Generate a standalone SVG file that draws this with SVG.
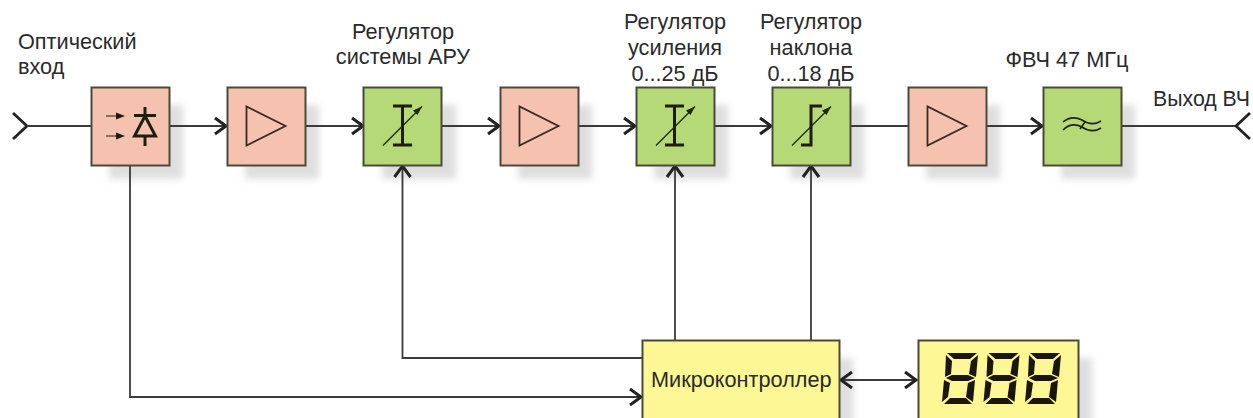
<svg xmlns="http://www.w3.org/2000/svg" xmlns:xlink="http://www.w3.org/1999/xlink" width="1253" height="418" viewBox="0 0 1253 418">
<style>
text{font-family:"Liberation Sans",Arial,sans-serif;font-size:21.7px;fill:#2a2a2a}
.m{text-anchor:middle}
.box{stroke:#4a4a3c;stroke-width:2}
.red{fill:#f5c2b0}.grn{fill:#b5d976}.yel{fill:#fdf796}
.sh{fill:#c4c4c4;opacity:.55;filter:url(#b)}
.l{fill:none;stroke:#3a3a3a;stroke-width:1.8}
.a{fill:none;stroke:#222;stroke-width:2.8}
.sym{fill:none;stroke:#3a2a20;stroke-width:1.8}
.thick{fill:none;stroke:#1e1e10;stroke-width:3}
.thin{fill:none;stroke:#1e2410;stroke-width:1.2}
.wave{fill:none;stroke:#1e2410;stroke-width:1.6}
</style>
<defs>
<filter id="b" x="-20%" y="-20%" width="140%" height="140%"><feGaussianBlur stdDeviation="3.5"/></filter>
<marker id="ah" markerUnits="userSpaceOnUse" markerWidth="16" markerHeight="20" refX="13" refY="10" orient="auto-start-reverse">
<path d="M1 2 L12 10 L1 18" fill="none" stroke="#222" stroke-width="3"/>
</marker>
<g id="amp"><path class="sym" d="M19.500 19.500 L19.500 58.500 L58.500 39 Z"/></g>
<g id="arw"><path class="thin" d="M11 58.500 L50 19.500"/><path d="M50 19.500 L41 23.500 L45.500 28 Z" fill="#1e2410"/></g>
<g id="dg" fill="#1c1608">
<polygon points="4,1 34,1 27,7 11,7"/>
<polygon points="3,3 9,9 8,22 2,25"/>
<polygon points="35,3 33,25 26,22 28,9"/>
<polygon points="3,26 9,23 25,23 32,26 25,29 9,29"/>
<polygon points="1,28 7,31 5,45 -1,50"/>
<polygon points="32,28 30,50 23,45 25,31"/>
<polygon points="1,52 29,52 23,46 7,46"/>
</g>
</defs>
<g id="shadows">
<rect class="sh" x="109" y="105" width="74" height="74"/>
<rect class="sh" x="245" y="105" width="74" height="74"/>
<rect class="sh" x="382" y="105" width="74" height="74"/>
<rect class="sh" x="518" y="105" width="74" height="74"/>
<rect class="sh" x="654" y="105" width="74" height="74"/>
<rect class="sh" x="790" y="105" width="74" height="74"/>
<rect class="sh" x="926" y="105" width="74" height="74"/>
<rect class="sh" x="1061" y="105" width="74" height="74"/>
<rect class="sh" x="660" y="358" width="193" height="76"/>
<rect class="sh" x="936" y="358" width="156" height="76"/>
</g>
<g id="connectors">
<path class="a" d="M13 113 L27 126 L13 139"/>
<path class="l" d="M27 126 H91"/>
<path class="l" d="M169 126 H227" marker-end="url(#ah)"/>
<path class="l" d="M305 126 H364" marker-end="url(#ah)"/>
<path class="l" d="M442 126 H500" marker-end="url(#ah)"/>
<path class="l" d="M578 126 H636" marker-end="url(#ah)"/>
<path class="l" d="M714 126 H772" marker-end="url(#ah)"/>
<path class="l" d="M850 126 H908"/>
<path class="l" d="M986 126 H1043" marker-end="url(#ah)"/>
<path class="l" d="M1121 126 H1236"/>
<path class="a" d="M1250 113 L1236 126 L1250 139"/>
<path class="l" d="M130 165 V397 H642" marker-end="url(#ah)"/>
<path class="l" d="M642 358 H402.500 V165" marker-end="url(#ah)"/>
<path class="l" d="M675 340 V165" marker-end="url(#ah)"/>
<path class="l" d="M811 340 V165" marker-end="url(#ah)"/>
<path class="l" d="M840 380 H917" marker-start="url(#ah)" marker-end="url(#ah)"/>
</g>
<g id="n1"><rect class="box red" x="91.500" y="87.500" width="78" height="78"/>
<path class="thin" d="M106 116 H121 M106 136 H121"/><path d="M125 116 L116 112.500 V119.500 Z M125 136 L116 132.500 V139.500 Z" fill="#1e1e10"/>
<path class="thick" d="M134 115.500 H156 M145 107 V115 M145 136 V146 M145 116 L134.500 136 H155.500 Z"/></g>
<g id="n2"><rect class="box red" x="227.500" y="87.500" width="78" height="78"/><use xlink:href="#amp" href="#amp" x="227" y="87"/></g>
<g id="n3"><rect class="box grn" x="363.500" y="87.500" width="78" height="78"/><path class="thick" d="M393 106 H412 M393 145 H412 M402.500 106 V145"/><use xlink:href="#arw" href="#arw" x="372" y="87"/></g>
<g id="n4"><rect class="box red" x="500.500" y="87.500" width="78" height="78"/><use xlink:href="#amp" href="#amp" x="500" y="87"/></g>
<g id="n5"><rect class="box grn" x="636.500" y="87.500" width="78" height="78"/><path class="thick" d="M665 106 H684 M665 145 H684 M674.500 106 V145"/><use xlink:href="#arw" href="#arw" x="645" y="87"/></g>
<g id="n6"><rect class="box grn" x="772.500" y="87.500" width="78" height="78"/><path class="thick" d="M822 106 H811 V145 H801"/><use xlink:href="#arw" href="#arw" x="781" y="87"/></g>
<g id="n7"><rect class="box red" x="908.500" y="87.500" width="78" height="78"/><use xlink:href="#amp" href="#amp" x="908" y="87"/></g>
<g id="n8"><rect class="box grn" x="1043.500" y="87.500" width="78" height="78"/>
<path class="wave" d="M1063 122 C1069 117 1076 117 1082 120 C1088 124 1095 125 1101 121 M1063 130 C1069 124 1076 124 1082 127 C1088 131 1095 132 1101 128 M1080 129 L1085 122"/></g>
<g id="n9"><rect class="box yel" x="642.500" y="340.500" width="197" height="80"/><text x="651" y="387">Микроконтроллер</text></g>
<g id="n10"><rect class="box yel" x="918.500" y="340.500" width="160" height="80"/>
<use xlink:href="#dg" href="#dg" x="943" y="352"/><use xlink:href="#dg" href="#dg" x="984.500" y="352"/><use xlink:href="#dg" href="#dg" x="1026" y="352"/></g>
<g id="labels">
<text x="18" y="49">Оптический</text><text x="18" y="74">вход</text>
<text class="m" x="403" y="39">Регулятор</text><text class="m" x="403" y="64">системы АРУ</text>
<text class="m" x="675" y="29">Регулятор</text><text class="m" x="675" y="55">усиления</text><text class="m" x="675" y="81">0...25 дБ</text>
<text class="m" x="811" y="29">Регулятор</text><text class="m" x="811" y="55">наклона</text><text class="m" x="811" y="81">0...18 дБ</text>
<text class="m" x="1067" y="67">ФВЧ 47 МГц</text>
<text x="1153" y="106" textLength="97" lengthAdjust="spacingAndGlyphs">Выход ВЧ</text>
</g>
</svg>
